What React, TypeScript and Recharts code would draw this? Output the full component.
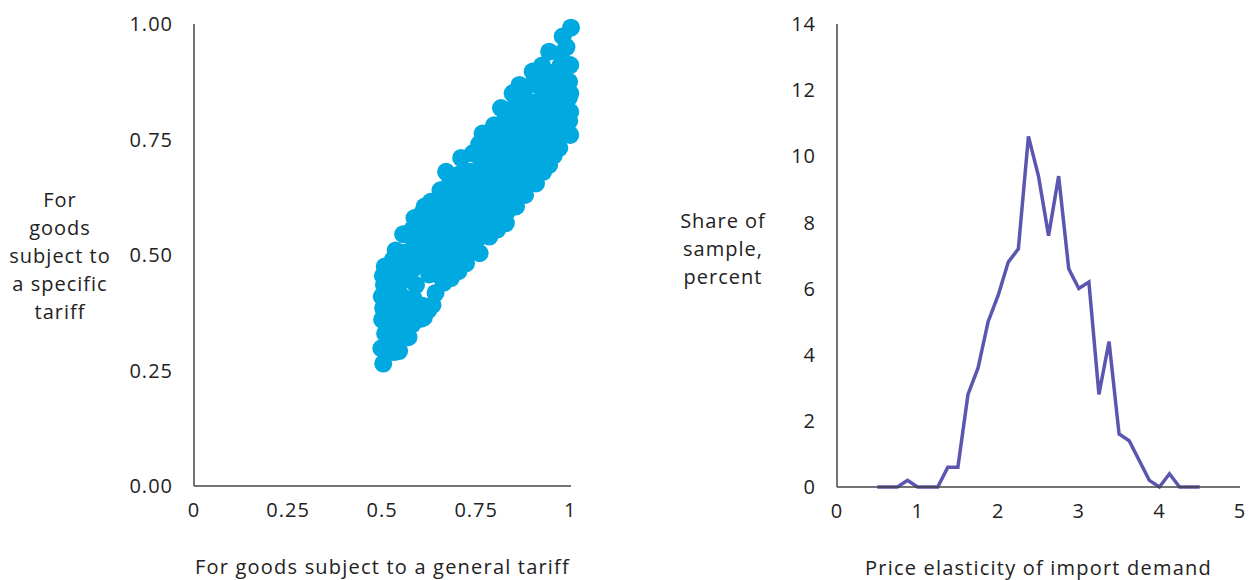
import { ScatterChart, Scatter, LineChart, Line, XAxis, YAxis } from 'recharts';

// Unit values: general-tariff share (x) against specific-tariff share (y)
const unitValuePairs: Array<[number, number]> = [
  [0.503, 0.265], [0.498, 0.298], [0.508, 0.33], [0.5, 0.36], [0.503, 0.385], [0.499, 0.41], [0.505, 0.435], [0.502, 0.455], [0.507, 0.475],
  [0.532, 0.29], [0.525, 0.315], [0.535, 0.345], [0.528, 0.375], [0.534, 0.4], [0.527, 0.43], [0.533, 0.46], [0.529, 0.49], [0.536, 0.51],
  [0.545, 0.292], [0.558, 0.32], [0.552, 0.35], [0.56, 0.38], [0.553, 0.41], [0.557, 0.445], [0.551, 0.475], [0.559, 0.505], [0.556, 0.545],
  [0.57, 0.322], [0.58, 0.35], [0.577, 0.375], [0.584, 0.405], [0.59, 0.435], [0.582, 0.47], [0.578, 0.5], [0.585, 0.53], [0.58, 0.555], [0.586, 0.58],
  [0.604, 0.362], [0.611, 0.365], [0.607, 0.39], [0.603, 0.48], [0.609, 0.51], [0.605, 0.54], [0.61, 0.565], [0.606, 0.59], [0.613, 0.605],
  [0.622, 0.38], [0.634, 0.392], [0.642, 0.418], [0.625, 0.458], [0.631, 0.47], [0.627, 0.5], [0.635, 0.53], [0.63, 0.555], [0.633, 0.585], [0.629, 0.615],
  [0.664, 0.44], [0.654, 0.455], [0.658, 0.485], [0.652, 0.515], [0.657, 0.545], [0.653, 0.575], [0.659, 0.605], [0.655, 0.64],
  [0.683, 0.45], [0.678, 0.48], [0.684, 0.51], [0.679, 0.54], [0.682, 0.57], [0.677, 0.6], [0.685, 0.63], [0.68, 0.655], [0.67, 0.68],
  [0.703, 0.465], [0.708, 0.495], [0.702, 0.525], [0.707, 0.555], [0.704, 0.585], [0.709, 0.615], [0.701, 0.645], [0.706, 0.675], [0.71, 0.71],
  [0.723, 0.482], [0.733, 0.505], [0.728, 0.535], [0.732, 0.565], [0.718, 0.6], [0.735, 0.62], [0.729, 0.65], [0.734, 0.68], [0.741, 0.72],
  [0.759, 0.504], [0.753, 0.535], [0.758, 0.565], [0.752, 0.595], [0.757, 0.625], [0.754, 0.655], [0.76, 0.685], [0.755, 0.715], [0.758, 0.74], [0.767, 0.763],
  [0.785, 0.54], [0.778, 0.565], [0.783, 0.595], [0.779, 0.625], [0.784, 0.655], [0.777, 0.685], [0.782, 0.715], [0.78, 0.745], [0.784, 0.765],
  [0.806, 0.555], [0.801, 0.585], [0.807, 0.615], [0.803, 0.645], [0.808, 0.675], [0.802, 0.705], [0.806, 0.735], [0.804, 0.76], [0.798, 0.781], [0.816, 0.818],
  [0.829, 0.569], [0.833, 0.595], [0.828, 0.625], [0.834, 0.655], [0.83, 0.685], [0.832, 0.715], [0.827, 0.745], [0.833, 0.775], [0.829, 0.8],
  [0.856, 0.605], [0.853, 0.63], [0.858, 0.66], [0.854, 0.69], [0.857, 0.72], [0.852, 0.75], [0.858, 0.78], [0.855, 0.81], [0.856, 0.828],
  [0.88, 0.63], [0.884, 0.655], [0.878, 0.685], [0.883, 0.715], [0.879, 0.745], [0.884, 0.775], [0.878, 0.805], [0.882, 0.835], [0.88, 0.86], [0.865, 0.868], [0.847, 0.85],
  [0.909, 0.655], [0.903, 0.68], [0.907, 0.71], [0.904, 0.74], [0.908, 0.77], [0.903, 0.8], [0.906, 0.83], [0.9, 0.87], [0.9, 0.897],
  [0.928, 0.68], [0.933, 0.705], [0.929, 0.735], [0.934, 0.765], [0.93, 0.795], [0.932, 0.825], [0.927, 0.855], [0.931, 0.885], [0.925, 0.91],
  [0.944, 0.695], [0.956, 0.715], [0.952, 0.745], [0.957, 0.775], [0.953, 0.805], [0.958, 0.835], [0.952, 0.865], [0.956, 0.895], [0.944, 0.94],
  [0.971, 0.732], [0.976, 0.76], [0.972, 0.79], [0.977, 0.82], [0.973, 0.85], [0.978, 0.88], [0.974, 0.91], [0.975, 0.935], [0.98, 0.973],
  [1.0, 0.76], [0.997, 0.79], [1.0, 0.81], [0.996, 0.84], [1.0, 0.85], [0.997, 0.875], [1.0, 0.911], [0.99, 0.95], [1.002, 0.992],
];

const scatterTicks = [0, 0.25, 0.5, 0.75, 1];

// Distribution of import demand elasticities
const elasticityBins = [
  0.5, 0.625, 0.75, 0.875, 1.0, 1.125, 1.25, 1.375, 1.5, 1.625, 1.75,
  1.875, 2.0, 2.125, 2.25, 2.375, 2.5, 2.625, 2.75, 2.875, 3.0, 3.125,
  3.25, 3.375, 3.5, 3.625, 3.75, 3.875, 4.0, 4.125, 4.25, 4.375, 4.5,
];
const sampleShare = [
  0, 0, 0, 0.2, 0, 0, 0, 0.6, 0.6, 2.8, 3.6,
  5.0, 5.8, 6.8, 7.2, 10.6, 9.4, 7.6, 9.4, 6.6, 6.0, 6.2,
  2.8, 4.4, 1.6, 1.4, 0.8, 0.2, 0, 0.4, 0, 0, 0,
];
const elasticityTicks = [0, 1, 2, 3, 4, 5];
const shareTicks = [0, 2, 4, 6, 8, 10, 12, 14];

const scatterData = unitValuePairs.map(([general, specific]) => ({ general, specific }));
const lineData = elasticityBins.map((e, i) => ({ elasticity: e, share: sampleShare[i] }));

const TEXT = '#222';
const AXIS = '#444';
const tickStyle = { fontSize: 20, fill: TEXT, letterSpacing: 1 };

const Dot = (props: any) => <circle cx={props.cx} cy={props.cy} r={9} fill="#00A9DF" />;

const bottomTitle = (text: string) => (props: any) => {
  const { x, y, width } = props.viewBox;
  return (
    <text x={x + width / 2} y={y + 80} textAnchor="middle" dominantBaseline="central" fontSize={20} letterSpacing={1.2} fill={TEXT}>
      {text}
    </text>
  );
};

const sideTitle = (lines: string[], cx: number, cy: number) => () => {
  const step = 27.8;
  const top = cy - ((lines.length - 1) * step) / 2;
  return (
    <text textAnchor="middle" dominantBaseline="central" fontSize={20} letterSpacing={1} fill={TEXT}>
      {lines.map((l, i) => (
        <tspan key={i} x={cx} y={top + i * step}>{l}</tspan>
      ))}
    </text>
  );
};

export default function App() {
  return (
    <div style={{ position: 'absolute', left: 0, top: 0, width: 1255, height: 580, background: '#fff', fontFamily: '"Open Sans", sans-serif' }}>
      <div style={{ position: 'absolute', left: 0, top: 0 }}>
        <ScatterChart width={600} height={580} margin={{ top: 24, right: 29, bottom: 0, left: 0 }}>
          <XAxis
            type="number"
            dataKey="general"
            domain={[0, 1]}
            ticks={scatterTicks}
            tickFormatter={(v: number) => String(v)}
            height={94}
            tickLine={false}
            tickSize={0}
            tickMargin={17}
            tick={tickStyle}
            axisLine={{ stroke: AXIS, strokeWidth: 1.5 }}
            label={bottomTitle('For goods subject to a general tariff')}
          />
          <YAxis
            type="number"
            dataKey="specific"
            domain={[0, 1]}
            ticks={scatterTicks}
            tickFormatter={(v: number) => v.toFixed(2)}
            width={194}
            tickLine={false}
            tickSize={0}
            tickMargin={21}
            tick={tickStyle}
            axisLine={{ stroke: AXIS, strokeWidth: 1.5 }}
            label={sideTitle(['For', 'goods', 'subject to', 'a specific', 'tariff'], 60, 255)}
          />
          <Scatter data={scatterData} shape={Dot} isAnimationActive={false} />
        </ScatterChart>
      </div>
      <div style={{ position: 'absolute', left: 620, top: 0 }}>
        <LineChart width={635} height={580} data={lineData} margin={{ top: 24, right: 15, bottom: 0, left: 0 }}>
          <XAxis
            type="number"
            dataKey="elasticity"
            domain={[0, 5]}
            ticks={elasticityTicks}
            height={93}
            tickLine={false}
            tickSize={0}
            tickMargin={17}
            tick={tickStyle}
            axisLine={{ stroke: AXIS, strokeWidth: 1.5 }}
            label={bottomTitle('Price elasticity of import demand')}
          />
          <YAxis
            type="number"
            domain={[0, 14]}
            ticks={shareTicks}
            width={217}
            tickLine={false}
            tickSize={0}
            tickMargin={21}
            tick={tickStyle}
            axisLine={{ stroke: AXIS, strokeWidth: 1.5 }}
            label={sideTitle(['Share of', 'sample,', 'percent'], 103, 248)}
          />
          <Line
            type="linear"
            dataKey="share"
            stroke="#5B56B0"
            strokeWidth={3.5}
            dot={false}
            isAnimationActive={false}
          />
        </LineChart>
      </div>
    </div>
  );
}
